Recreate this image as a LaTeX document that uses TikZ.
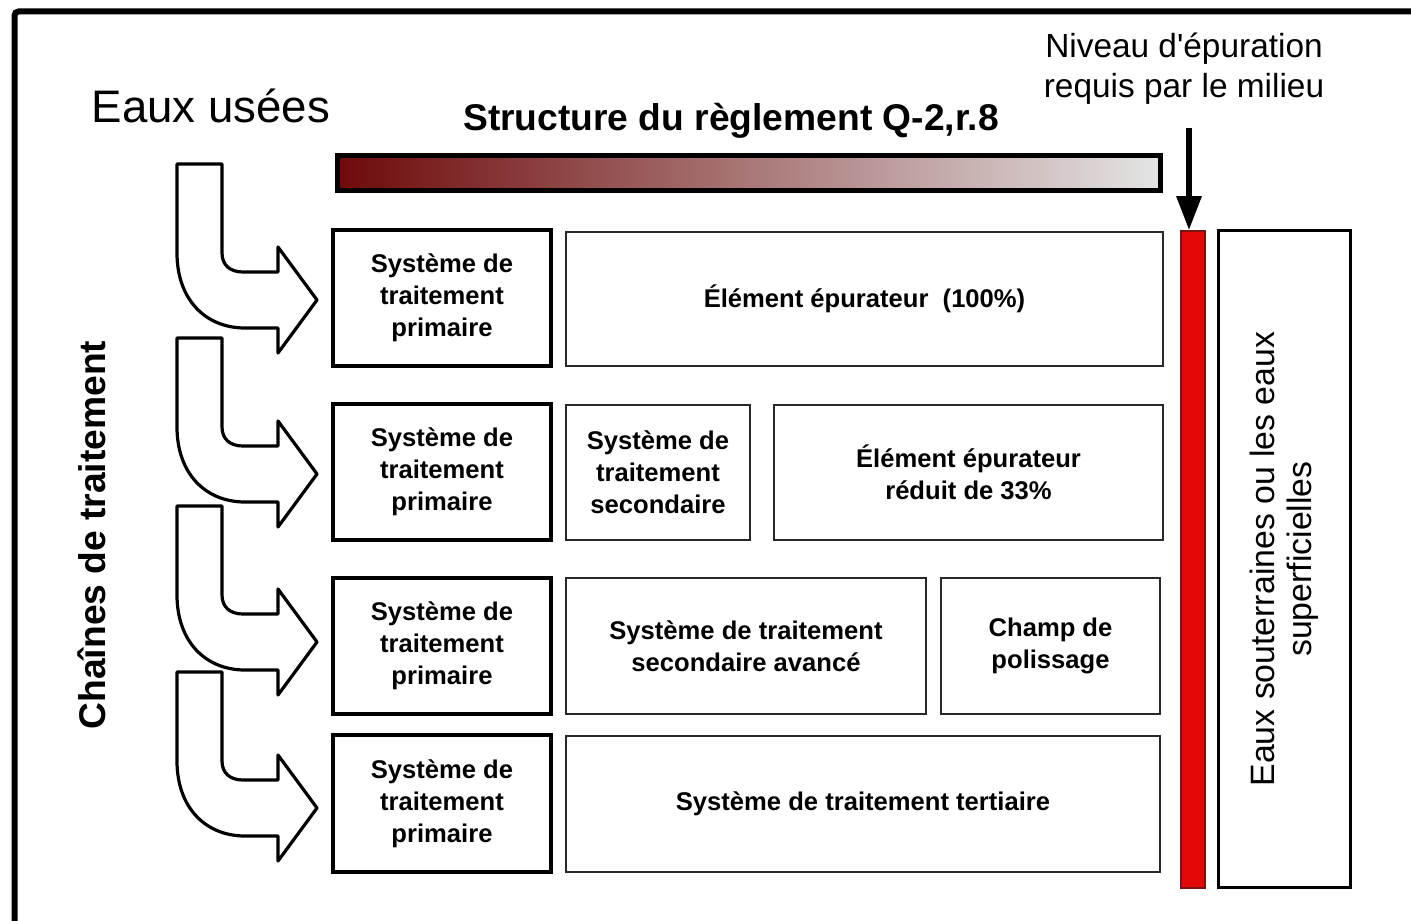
\documentclass[tikz,border=0pt]{standalone}
\usepackage{fontspec}
\setmainfont{Liberation Sans}
\usetikzlibrary{arrows.meta}
\definecolor{barleft}{RGB}{110,10,10}
\definecolor{barright}{RGB}{228,228,228}
\definecolor{redbar}{RGB}{228,8,8}
\definecolor{rededge}{RGB}{120,20,20}
\definecolor{thinedge}{RGB}{40,40,40}
\tikzset{
  primbox/.style={draw=black, line width=1.6pt, fill=white},
  stagebox/.style={draw=thinedge, line width=0.9pt, fill=white},
  boxtext/.style={font=\bfseries\fontsize{12.8}{16}\selectfont, align=center},
  arrowshape/.style={draw=black, line width=1.6pt, fill=white, line join=round},
}
\newcommand\chainarrow[1]{%
  \draw[arrowshape] (177,#1) -- (222,#1) -- (222,#1+89)
    .. controls (222,#1+101) and (230,#1+108) .. (243,#1+108)
    -- (278,#1+108) -- (278,#1+83) -- (317,#1+136) -- (278,#1+189)
    -- (278,#1+164) -- (245,#1+164)
    .. controls (205,#1+164) and (177,#1+135) .. (177,#1+89) -- cycle;}
\begin{document}
\begin{tikzpicture}[x=0.5pt,y=-0.5pt]
\useasboundingbox (0,0) rectangle (1411,920);
\begin{scope}
\clip (0,0) rectangle (1411,920);
\draw[line width=3pt, rounded corners=2pt] (14.5,11.5) rectangle (1500,1000);
\end{scope}

% titles
\node[font=\fontsize{22.8}{27}\selectfont] (eaux) at (211,106) {Eaux usées};
\node[font=\bfseries\fontsize{18.6}{22}\selectfont] (titre) at (731,121) {Structure du règlement Q-2,r.8};
\node[font=\fontsize{16.7}{20}\selectfont, align=center] (niveau) at (1184,69) {Niveau d\textquotesingle épuration\\requis par le milieu};
\node[font=\bfseries\fontsize{18.6}{22}\selectfont, rotate=90] (chaines) at (92,535) {Chaînes de traitement};

% gradient bar
\path[draw=black, line width=2.6pt, left color=barleft, right color=barright] (337.5,155.5) rectangle (1160.5,190.5);

% curved arrows
\chainarrow{164}
\chainarrow{338}
\chainarrow{506}
\chainarrow{672}

% row 1
\node[primbox, boxtext, minimum width=109pt, minimum height=68pt] (p1) at (442,298) {Système de\\traitement\\primaire};
\node[stagebox, boxtext, minimum width=298.5pt, minimum height=67pt] (e1) at (864.5,299) {Élément épurateur\ \ (100\%)};
% row 2
\node[primbox, boxtext, minimum width=109pt, minimum height=68pt] (p2) at (442,472) {Système de\\traitement\\primaire};
\node[stagebox, boxtext, minimum width=92pt, minimum height=67.5pt] (s2) at (658,472.5) {Système de\\traitement\\secondaire};
\node[stagebox, boxtext, minimum width=194.5pt, minimum height=67.5pt] (e2) at (968.5,472.5) {Élément épurateur\\réduit de 33\%};
% row 3
\node[primbox, boxtext, minimum width=109pt, minimum height=68pt] (p3) at (442,646) {Système de\\traitement\\primaire};
\node[stagebox, boxtext, minimum width=180pt, minimum height=68pt] (s3) at (746,646) {Système de traitement\\secondaire avancé};
\node[stagebox, boxtext, minimum width=109.5pt, minimum height=68pt] (c3) at (1050.5,646) {Champ de\\polissage};
% row 4
\node[primbox, boxtext, minimum width=109pt, minimum height=68.5pt] (p4) at (442,803.5) {Système de\\traitement\\primaire};
\node[stagebox, boxtext, minimum width=297pt, minimum height=68pt] (t4) at (863,804) {Système de traitement tertiaire};

% red bar and arrow
\node[draw=rededge, fill=redbar, line width=0.8pt, minimum width=12pt, minimum height=328.5pt, inner sep=0pt] (red) at (1193,559.5) {};
\coordinate (arrtop) at (1189,128);
\draw[line width=3pt, -{Triangle[length=17pt,width=12pt]}] (arrtop) -- (red.north -| arrtop);

% receiving waters box
\node[draw=black, line width=1.6pt, minimum width=66pt, minimum height=328.5pt, inner sep=0pt] (milieu) at (1284.5,559) {};
\node[font=\fontsize{16.9}{18.5}\selectfont, rotate=90, align=center] (milieutxt) at (milieu.center) {Eaux souterraines ou les eaux\\superficielles};
\end{tikzpicture}
\end{document}
